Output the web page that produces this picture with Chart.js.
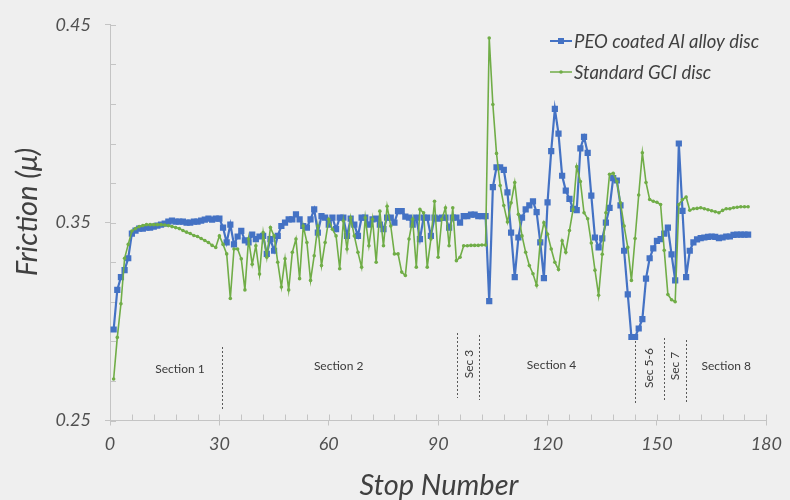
<!DOCTYPE html>
<html><head><meta charset="utf-8">
<script src="https://cdn.jsdelivr.net/npm/chart.js@4.4.1/dist/chart.umd.min.js"></script>
<style>
html,body{margin:0;padding:0;background:#efefef;}
#wrap{width:790px;height:500px;position:relative;overflow:hidden;}
canvas{display:block;}
</style></head><body>
<div id="wrap"><canvas id="c" width="790" height="500"></canvas></div>
<script>
// ---- DATA ----
const seriesNames = ['PEO coated Al alloy disc', 'Standard GCI disc'];
const peoFriction = [
0.296,0.316,0.3225,0.326,0.332,0.3445,0.346,0.347,0.347,0.3475,
0.3475,0.348,0.3485,0.349,0.3495,0.3505,0.351,0.3505,0.3505,0.3505,
0.350,0.350,0.3505,0.3505,0.351,0.3515,0.352,0.3515,0.352,0.352,
0.3475,0.340,0.349,0.339,0.343,0.3458,0.341,0.340,0.344,0.3417,
0.343,0.3433,0.3342,0.3417,0.3358,0.3433,0.3483,0.350,0.3517,0.3517,
0.3542,0.3517,0.3483,0.3475,0.3517,0.3567,0.345,0.3533,0.3525,0.349,
0.3525,0.3467,0.3525,0.3525,0.3433,0.352,0.349,0.3433,0.3525,0.3525,
0.349,0.3517,0.352,0.349,0.3467,0.3525,0.3525,0.350,0.3558,0.3558,
0.353,0.3525,0.349,0.3525,0.3417,0.3525,0.3525,0.3433,0.3525,0.352,
0.3525,0.3525,0.3475,0.3525,0.3525,0.350,0.3533,0.3533,0.354,0.354,
0.3533,0.3533,0.3533,0.3103,0.368,0.378,0.378,0.3767,0.3653,0.345,
0.3225,0.3425,0.3525,0.3567,0.3587,0.3608,0.3553,0.340,0.322,0.3603,
0.3862,0.4075,0.395,0.3737,0.3662,0.362,0.357,0.3563,0.3875,0.3933,
0.3853,0.3637,0.3425,0.3375,0.342,0.350,0.3575,0.3725,0.3713,0.3587,
0.3358,0.3138,0.2922,0.2922,0.2965,0.3012,0.3217,0.332,0.337,0.3408,
0.3417,0.3445,0.3475,0.334,0.3208,0.390,0.356,0.3225,0.3358,0.340,
0.3415,0.3422,0.3425,0.3428,0.343,0.3428,0.3422,0.3425,0.343,0.343,
0.3438,0.344,0.344,0.344,0.344
];
const gciFriction = [
0.271,0.292,0.309,0.332,0.339,0.3458,0.347,0.348,0.3485,0.349,
0.349,0.349,0.349,0.349,0.3488,0.3485,0.348,0.3475,0.347,0.346,
0.3452,0.3445,0.3435,0.343,0.342,0.341,0.340,0.3385,0.3375,0.3433,
0.339,0.3342,0.3117,0.3367,0.3367,0.3317,0.316,0.3417,0.329,0.3383,
0.324,0.345,0.3325,0.3475,0.3433,0.330,0.3175,0.3317,0.316,0.335,
0.3417,0.3217,0.3483,0.340,0.3208,0.3333,0.3483,0.3283,0.340,0.3517,
0.3467,0.3433,0.3267,0.3508,0.3367,0.3525,0.3433,0.335,0.3275,0.3525,
0.3383,0.3517,0.330,0.3558,0.3383,0.3583,0.3483,0.3342,0.3342,0.325,
0.3233,0.3417,0.3517,0.3275,0.3567,0.355,0.3275,0.3417,0.3608,0.3325,
0.3517,0.3575,0.3383,0.3575,0.3308,0.3325,0.3383,0.3383,0.3385,0.3385,
0.3385,0.3387,0.3387,0.4433,0.4097,0.385,0.3688,0.3587,0.3503,0.360,
0.3703,0.3542,0.3433,0.335,0.3283,0.3242,0.3183,0.3408,0.350,0.3442,
0.3367,0.330,0.3263,0.3408,0.335,0.346,0.3567,0.3783,0.3708,0.355,
0.352,0.3397,0.326,0.3133,0.334,0.355,0.3745,0.375,0.3708,0.360,
0.3483,0.3375,0.3208,0.342,0.364,0.3853,0.3703,0.3617,0.3608,0.3603,
0.3592,0.336,0.3137,0.311,0.310,0.3592,0.3617,0.363,0.3563,0.357,
0.3572,0.3575,0.357,0.3565,0.356,0.3555,0.355,0.3562,0.357,0.357,
0.3575,0.3578,0.358,0.358,0.358
];
const yTickLabels = [0.25, 0.35, 0.45];
const xTickLabels = [0, 30, 60, 90, 120, 150, 180];
const sectionBoundaries = [30.7, 95.1, 101.1, 144.1, 151.8, 158.1];
const sectionNames = ['Section 1', 'Section 2', 'Sec 3', 'Section 4', 'Sec 5-6', 'Sec 7', 'Section 8'];
const sectionCentres = [19.2, 62.7, 98.4, 121.1, 147.9, 155.1, 169.0];
const xTitle = 'Stop Number';
const yTitle = 'Friction (\u03bc)';

// ---- STYLE ----
const BLUE = '#4472c4', GREEN = '#70ad47', TXT = '#404040', AX = '#c4c4c4', BG = '#efefef';
const FONT = 'Lato, "Open Sans", sans-serif';
const sectionRotated = [false, false, true, false, true, true, false];
const boundaryTopPx = [347, 333, 335, 337, 338, 340];
const boundaryBottomPx = [410, 398, 400, 404, 402, 403];
const labelPx = [369, 366, 364, 365, 368, 366, 366];

const toPts = arr => arr.map((v, i) => ({x: i + 1, y: v}));
const isLabelled = (list, v) => list.some(t => Math.abs(t - v) < 1e-6);

const deco = {
  id: 'deco',
  beforeDraw(chart) {
    const c = chart.ctx; c.save(); c.fillStyle = BG; c.fillRect(0, 0, chart.width, chart.height); c.restore();
  },
  beforeDatasetsDraw(chart) {
    const {ctx, scales: {x, y}, chartArea: a} = chart;
    ctx.save();
    ctx.strokeStyle = AX; ctx.lineWidth = 1;
    y.ticks.forEach(t => {
      const py = Math.round(y.getPixelForValue(t.value)) + 0.5;
      ctx.beginPath(); ctx.moveTo(a.left, py); ctx.lineTo(a.left + 6, py); ctx.stroke();
    });
    x.ticks.forEach(t => {
      const px = Math.round(x.getPixelForValue(t.value)) + 0.5;
      ctx.beginPath(); ctx.moveTo(px, a.bottom); ctx.lineTo(px, a.bottom - 6); ctx.stroke();
    });
    // section boundaries
    ctx.strokeStyle = '#5a5a5a'; ctx.setLineDash([2, 2]);
    sectionBoundaries.forEach((s, i) => {
      const px = Math.round(x.getPixelForValue(s)) + 0.5;
      ctx.beginPath(); ctx.moveTo(px, boundaryTopPx[i]); ctx.lineTo(px, boundaryBottomPx[i]); ctx.stroke();
    });
    ctx.setLineDash([]);
    ctx.fillStyle = '#3a3a3a'; ctx.font = '12px ' + FONT;
    ctx.textAlign = 'center'; ctx.textBaseline = 'middle';
    sectionNames.forEach((n, i) => {
      const px = x.getPixelForValue(sectionCentres[i]);
      ctx.save(); ctx.translate(px, labelPx[i]);
      if (sectionRotated[i]) ctx.rotate(-Math.PI / 2);
      ctx.fillText(n, 0, 0); ctx.restore();
    });
    ctx.restore();
  },
  afterDraw(chart) {
    const {ctx, chartArea: a} = chart;
    ctx.save();
    // axis titles
    ctx.fillStyle = TXT; ctx.font = 'italic 29px ' + FONT;
    ctx.textAlign = 'center'; ctx.textBaseline = 'middle';
    ctx.save(); ctx.translate(28, 212); ctx.rotate(-Math.PI / 2); ctx.fillText(yTitle, 0, 0); ctx.restore();
    ctx.textBaseline = 'alphabetic';
    ctx.fillText(xTitle, 439, 495);
    // legend
    const rows = [{c: BLUE, w: 2, sq: true, y: 41}, {c: GREEN, w: 1.5, sq: false, y: 72}];
    ctx.font = 'italic 18.5px ' + FONT; ctx.textAlign = 'left'; ctx.textBaseline = 'middle';
    rows.forEach((r, i) => {
      ctx.strokeStyle = r.c; ctx.lineWidth = r.w;
      ctx.beginPath(); ctx.moveTo(550, r.y); ctx.lineTo(572, r.y); ctx.stroke();
      ctx.fillStyle = r.c;
      if (r.sq) ctx.fillRect(558, r.y - 3, 6, 6);
      else { ctx.beginPath(); ctx.arc(561, r.y, 1.8, 0, Math.PI * 2); ctx.fill(); }
      ctx.fillStyle = TXT; ctx.fillText(seriesNames[i], 574, r.y + 1);
    });
    ctx.restore();
  }
};

new Chart(document.getElementById('c'), {
  type: 'line',
  data: {
    datasets: [
      {label: seriesNames[1], data: toPts(gciFriction), borderColor: GREEN, backgroundColor: GREEN,
       borderWidth: 1.6, pointStyle: 'circle', pointRadius: 1.8, pointBorderWidth: 0, tension: 0},
      {label: seriesNames[0], data: toPts(peoFriction), borderColor: BLUE, backgroundColor: BLUE,
       borderWidth: 2.2, pointStyle: 'rect', pointRadius: 4.4, pointBorderWidth: 0, tension: 0}
    ]
  },
  options: {
    responsive: false, animation: false, devicePixelRatio: 1,
    layout: {padding: {top: 20, right: 23, left: 0, bottom: 0}},
    plugins: {legend: {display: false}, tooltip: {enabled: false}},
    scales: {
      x: {
        type: 'linear', min: 0, max: 180,
        afterFit(s) { s.height = 79.5; },
        border: {color: AX, width: 1},
        grid: {drawOnChartArea: false, drawTicks: true, tickLength: 5,
               color: c => isLabelled(xTickLabels, c.tick.value) ? AX : 'rgba(0,0,0,0)'},
        ticks: {stepSize: 6, autoSkip: false, maxRotation: 0, padding: 8, color: '#505050',
                font: {family: FONT, size: 18, style: 'italic'},
                callback: v => isLabelled(xTickLabels, v) ? String(Math.round(v)) : ''}
      },
      y: {
        type: 'linear', min: 0.25, max: 0.45,
        afterFit(s) { s.width = 110; },
        border: {color: AX, width: 1},
        grid: {drawOnChartArea: false, drawTicks: true, tickLength: 5,
               color: c => isLabelled(yTickLabels, c.tick.value) ? AX : 'rgba(0,0,0,0)'},
        ticks: {stepSize: 0.02, autoSkip: false, padding: 14, color: '#505050',
                font: {family: FONT, size: 18, style: 'italic'},
                callback: v => isLabelled(yTickLabels, v) ? v.toFixed(2) : ''}
      }
    }
  },
  plugins: [deco]
});
</script>
</body></html>
